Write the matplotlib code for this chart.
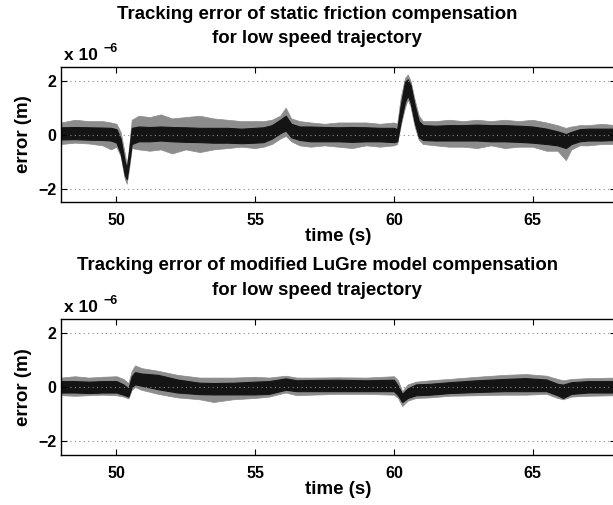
import numpy as np
from matplotlib import pyplot as plt

plt.rcParams['font.family'] = ['Liberation Sans', 'DejaVu Sans']
plt.rcParams['font.weight'] = 'bold'

# values in units of 1e-6 m, read off the picture as band envelopes
# columns: outer spikes high, dense core high, dense core low, outer spikes low
t_static = [48.0, 48.5, 49.0, 49.5, 49.8, 50.0, 50.15, 50.3, 50.37, 50.45, 50.55,
            50.8, 51.2, 51.6, 52.0, 52.5, 53.0, 53.5, 54.0, 54.5, 55.0, 55.3, 55.6,
            55.9, 56.1, 56.3, 56.6, 57.0, 57.5, 58.0, 58.5, 59.0, 59.5, 60.0, 60.12,
            60.25, 60.4, 60.5, 60.6, 60.75, 60.9, 61.05, 61.5, 62.0, 62.5, 63.0, 63.5,
            64.0, 64.5, 65.0, 65.5, 65.9, 66.2, 66.4, 66.7, 67.0, 67.5, 68.0]
static_out_hi = [0.45, 0.55, 0.50, 0.50, 0.45, 0.40, 0.10, -0.70, -1.10, -0.50, 0.55,
                 0.70, 0.65, 0.75, 0.60, 0.65, 0.70, 0.60, 0.55, 0.50, 0.50, 0.50, 0.55,
                 0.70, 1.00, 0.60, 0.50, 0.45, 0.40, 0.45, 0.45, 0.45, 0.40, 0.45, 0.40,
                 1.40, 2.10, 2.23, 2.00, 1.30, 0.70, 0.50, 0.50, 0.55, 0.50, 0.55, 0.50,
                 0.55, 0.50, 0.55, 0.45, 0.35, 0.25, 0.30, 0.35, 0.35, 0.40, 0.35]
static_core_hi = [0.27, 0.28, 0.27, 0.26, 0.25, 0.20, -0.15, -1.00, -1.25, -0.65, 0.25,
                  0.30, 0.28, 0.30, 0.28, 0.27, 0.25, 0.25, 0.25, 0.22, 0.25, 0.27, 0.35,
                  0.55, 0.70, 0.40, 0.30, 0.30, 0.28, 0.27, 0.28, 0.27, 0.25, 0.25, 0.20,
                  1.10, 1.95, 2.05, 1.85, 1.10, 0.50, 0.35, 0.33, 0.35, 0.35, 0.37, 0.35,
                  0.35, 0.33, 0.30, 0.22, 0.12, 0.02, 0.10, 0.20, 0.22, 0.22, 0.22]
static_core_lo = [-0.18, -0.17, -0.19, -0.20, -0.22, -0.30, -0.70, -1.50, -1.65, -1.10, -0.35,
                  -0.25, -0.25, -0.22, -0.25, -0.27, -0.28, -0.30, -0.30, -0.32, -0.30, -0.28, -0.15,
                  0.05, 0.15, -0.10, -0.20, -0.25, -0.25, -0.25, -0.27, -0.25, -0.25, -0.28, -0.25,
                  0.50, 1.20, 1.45, 1.20, 0.45, -0.10, -0.20, -0.22, -0.22, -0.22, -0.22, -0.25,
                  -0.25, -0.27, -0.30, -0.35, -0.40, -0.50, -0.35, -0.25, -0.22, -0.22, -0.20]
static_out_lo = [-0.35, -0.30, -0.33, -0.40, -0.55, -0.45, -0.80, -1.65, -1.82, -1.30, -0.50,
                 -0.55, -0.60, -0.55, -0.70, -0.55, -0.65, -0.55, -0.50, -0.45, -0.50, -0.45, -0.35,
                 -0.15, -0.05, -0.25, -0.40, -0.45, -0.40, -0.45, -0.50, -0.40, -0.45, -0.40, -0.35,
                 0.35, 1.00, 1.30, 1.05, 0.30, -0.20, -0.35, -0.40, -0.45, -0.45, -0.50, -0.40,
                 -0.50, -0.45, -0.45, -0.60, -0.60, -0.95, -0.55, -0.40, -0.40, -0.35, -0.35]

t_lugre = [48.0, 48.5, 49.0, 49.5, 50.0, 50.25, 50.43, 50.55, 50.67, 50.9, 51.5, 52.2,
           53.0, 53.5, 54.2, 55.0, 55.5, 56.1, 56.5, 57.0, 58.0, 59.0, 60.0, 60.15,
           60.3, 60.5, 60.8, 61.3, 62.0, 63.0, 64.0, 64.75, 65.5, 65.9, 66.1, 66.4,
           67.0, 68.0]
lugre_out_hi = [0.35, 0.40, 0.35, 0.38, 0.40, 0.30, 0.15, 0.60, 0.80, 0.70, 0.60, 0.45,
                0.35, 0.35, 0.35, 0.38, 0.35, 0.42, 0.35, 0.35, 0.36, 0.35, 0.40, 0.25,
                -0.15, 0.10, 0.20, 0.25, 0.30, 0.38, 0.45, 0.48, 0.42, 0.30, 0.25, 0.30,
                0.33, 0.35]
lugre_core_hi = [0.22, 0.22, 0.20, 0.22, 0.22, 0.10, -0.05, 0.40, 0.55, 0.50, 0.45, 0.28,
                 0.16, 0.15, 0.16, 0.20, 0.22, 0.32, 0.25, 0.26, 0.27, 0.25, 0.27, 0.05,
                 -0.25, -0.05, 0.10, 0.12, 0.18, 0.25, 0.30, 0.33, 0.28, 0.12, 0.09, 0.18,
                 0.22, 0.22]
lugre_core_lo = [-0.20, -0.20, -0.22, -0.20, -0.20, -0.28, -0.35, 0.00, 0.10, 0.05, -0.08, -0.20,
                 -0.26, -0.27, -0.27, -0.27, -0.25, -0.10, -0.15, -0.15, -0.15, -0.15, -0.15, -0.30,
                 -0.55, -0.40, -0.30, -0.28, -0.22, -0.18, -0.15, -0.15, -0.15, -0.30, -0.40, -0.25,
                 -0.20, -0.20]
lugre_out_lo = [-0.30, -0.32, -0.30, -0.28, -0.30, -0.35, -0.42, -0.10, 0.00, -0.10, -0.25, -0.38,
                -0.45, -0.55, -0.45, -0.40, -0.35, -0.20, -0.30, -0.28, -0.25, -0.25, -0.28, -0.40,
                -0.70, -0.50, -0.40, -0.38, -0.32, -0.30, -0.28, -0.28, -0.25, -0.40, -0.45, -0.35,
                -0.32, -0.30]

titles = [('Tracking error of static friction compensation', 'for low speed trajectory'),
          ('Tracking error of modified LuGre model compensation', 'for low speed trajectory')]
panels = [(t_static, static_out_hi, static_core_hi, static_core_lo, static_out_lo),
          (t_lugre, lugre_out_hi, lugre_core_hi, lugre_core_lo, lugre_out_lo)]

fig = plt.figure(figsize=(6.13, 5.05), dpi=100)
boxes = [[0.0995, 0.600, 0.905, 0.267], [0.0995, 0.099, 0.905, 0.269]]

for box, (line1, line2), (t, ohi, chi, clo, olo) in zip(boxes, titles, panels):
    ax = fig.add_axes(box)
    t = np.array(t)
    ax.fill_between(t, np.array(olo) * 1e-6, np.array(ohi) * 1e-6,
                    color='#8c8c8c', linewidth=0.5)
    ax.fill_between(t, np.array(clo) * 1e-6, np.array(chi) * 1e-6,
                    color='#141414', linewidth=0.8)
    ax.set_xlim(48, 68)
    ax.set_ylim(-2.5e-6, 2.5e-6)
    ax.set_xticks([50, 55, 60, 65])
    ax.set_yticks([-2e-6, 0, 2e-6])
    ax.set_yticklabels(['\u22122', '0', '2'])
    ax.yaxis.grid(True, linestyle=(0, (1, 3)), color='#888888', linewidth=0.8)
    ax.tick_params(direction='in', top=True, right=True, length=4, labelsize=11.5)
    ax.tick_params(axis='x', pad=8)
    for lab in ax.get_xticklabels() + ax.get_yticklabels():
        lab.set_fontweight('bold')
    for s in ax.spines.values():
        s.set_linewidth(1.0)
    ax.set_xlabel('time (s)', fontsize=13.5, fontweight='bold', labelpad=0)
    ax.set_ylabel('error (m)', fontsize=13.5, fontweight='bold', labelpad=4)
    ax.text(0.462, 1.36, line1, transform=ax.transAxes, fontsize=13.4,
            fontweight='bold', ha='center', va='baseline')
    ax.text(0.462, 1.18, line2, transform=ax.transAxes, fontsize=13.4,
            fontweight='bold', ha='center', va='baseline')
    ax.text(0.005, 1.03, 'x 10', transform=ax.transAxes, fontsize=12.5,
            fontweight='bold', ha='left', va='bottom')
    ax.text(0.077, 1.115, '\u22126', transform=ax.transAxes, fontsize=9,
            fontweight='bold', ha='left', va='baseline')

fig.savefig('out.png', dpi=100)
